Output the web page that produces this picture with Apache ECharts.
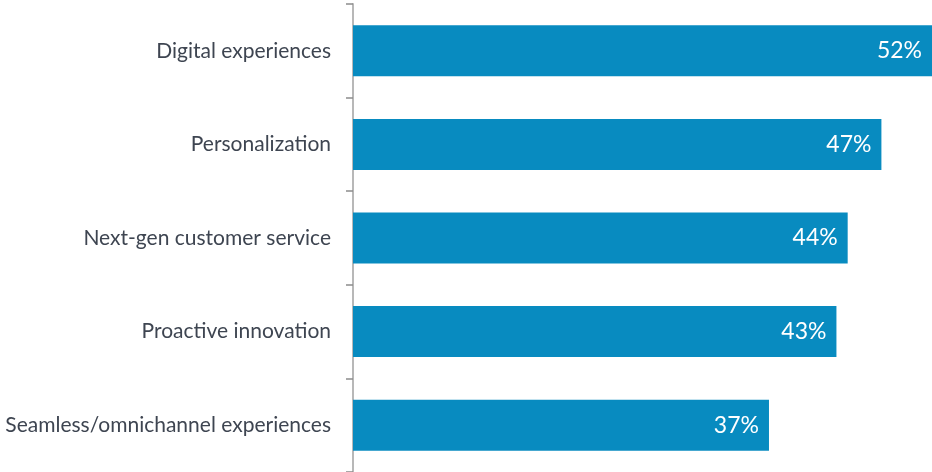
<!DOCTYPE html>
<html>
<head>
<meta charset="utf-8">
<script src="https://cdn.jsdelivr.net/npm/echarts@6/dist/echarts.min.js"></script>
<style>
html,body{margin:0;padding:0;background:#fff;}
#main{width:932px;height:472px;}
</style>
</head>
<body>
<div id="main"></div>
<script>
// categories top to bottom
var categories = ['Digital experiences', 'Personalization', 'Next-gen customer service', 'Proactive innovation', 'Seamless/omnichannel experiences'];
var values = [52, 47, 44, 43, 37];

var myChart = echarts.init(document.getElementById('main'));
var option = {
	animation: false,
	grid: {
		left: 353,
		right: 0,
		top: 4,
		bottom: 0
	},
	xAxis: {
		type: 'value',
		min: 0,
		max: 51.5,
		show: false
	},
	yAxis: {
		type: 'category',
		inverse: true,
		data: categories,
		axisLine: {
			lineStyle: { color: '#b8b8b8', width: 2 }
		},
		axisTick: {
			show: true,
			length: 7,
			lineStyle: { color: '#8c8c8c', width: 1.5 }
		},
		axisLabel: {
			margin: 22,
			color: '#3e4551',
			fontFamily: 'Lato',
			fontSize: 21
		}
	},
	series: [{
		type: 'bar',
		data: values,
		barWidth: 51,
		itemStyle: { color: '#088bc0' },
		label: {
			show: true,
			position: 'insideRight',
			distance: 10,
			formatter: '{c}%',
			color: '#fff',
			fontFamily: 'Lato',
			fontSize: 23
		}
	}]
};
myChart.setOption(option);
</script>
</body>
</html>
